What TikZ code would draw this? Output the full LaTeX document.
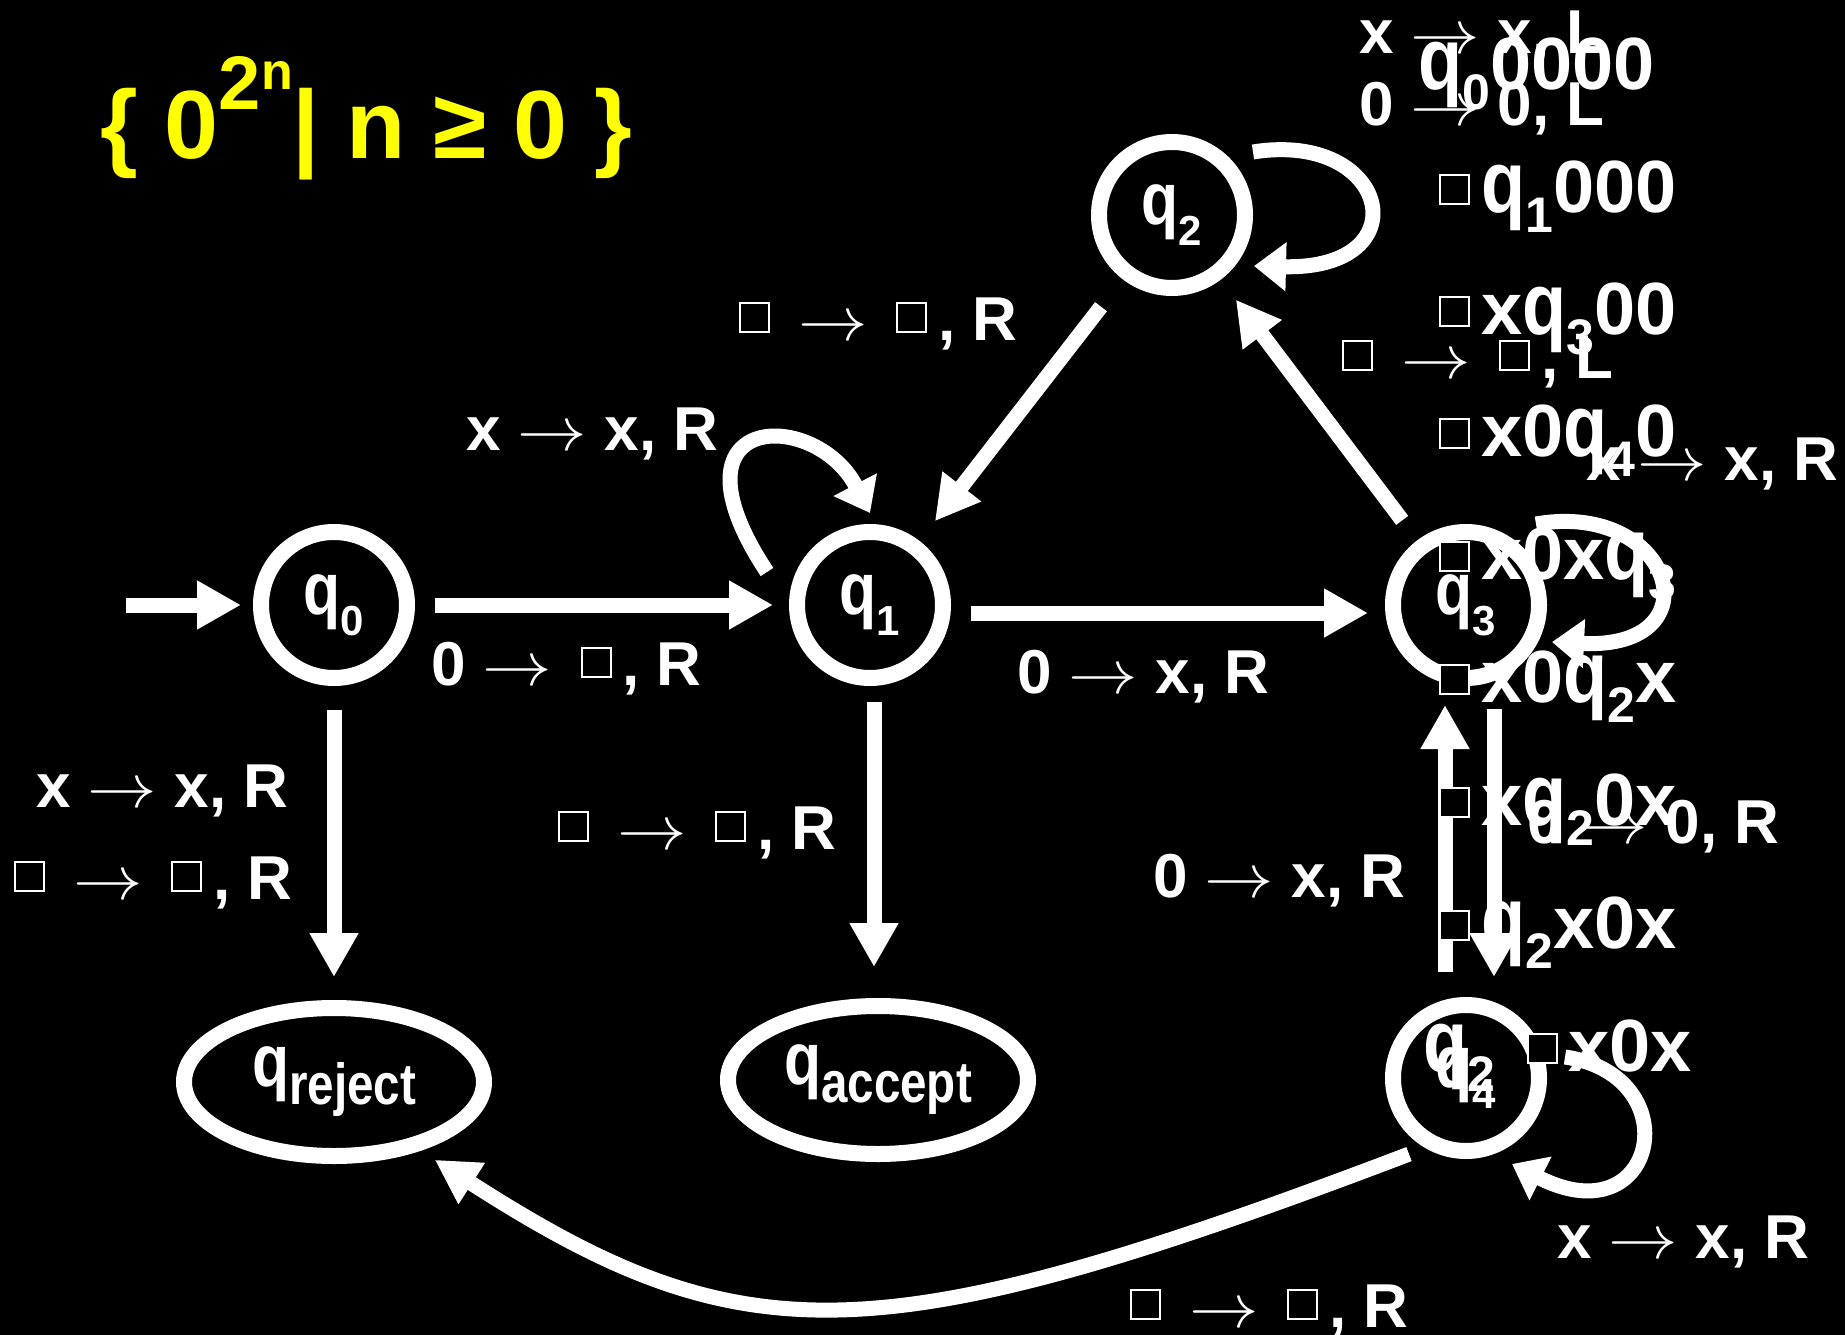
\RequirePackage{fix-cm}
\documentclass[tikz,border=0pt]{standalone}
\usepackage{fontspec}
\setmainfont{Liberation Sans}
\newfontfamily\narrowfont[FakeStretch=0.82]{Liberation Sans}
\usepackage{xcolor}
\usepackage{graphicx}
\usetikzlibrary{arrows.meta,shapes.geometric}
\definecolor{slideyellow}{RGB}{255,255,0}
\newcommand{\labfont}{\fontsize{62}{72}\selectfont\bfseries}
\newcommand{\cfgfont}{\fontsize{74}{84}\selectfont\bfseries}
\newcommand{\tmto}{\scalebox{1.12}[1]{$\rightarrow$}}
\newcommand{\blank}{\hspace{11pt}\raisebox{9pt}{\setlength{\fboxsep}{0pt}\setlength{\fboxrule}{2pt}\fcolorbox{white}{black}{\rule{0pt}{27pt}\rule{27pt}{0pt}}}\hspace{11pt}}
\newcommand{\qs}[1]{{\bfseries{\narrowfont\fontsize{74}{80}\selectfont q}\raisebox{-21pt}{\fontsize{42}{46}\selectfont #1}}}
\newcommand{\qh}[1]{{\narrowfont\bfseries\fontsize{74}{80}\selectfont q\raisebox{-18pt}{\fontsize{58}{64}\selectfont #1}}}
\newcommand{\cq}[1]{{\narrowfont\bfseries\fontsize{88}{96}\selectfont q}\raisebox{-20pt}{\fontsize{50}{56}\selectfont #1}}
\tikzset{
  tmstate/.style={draw=white,circle,line width=16pt,minimum size=146pt,inner sep=0pt,outer sep=0pt,text=white},
  haltstate/.style={draw=white,ellipse,line width=16pt,minimum width=300pt,minimum height=148pt,inner sep=0pt,outer sep=0pt,text=white},
  trans/.style={draw=white,line width=15pt,-{Triangle[length=44pt,width=46pt]}},
  selfloop/.style={draw=white,line width=15pt,-{Triangle[length=32pt,width=47pt]}},
  tlabel/.style={anchor=base west,inner sep=0pt,text=white,font=\labfont},
  cfgline/.style={anchor=base west,inner sep=0pt,text=white,font=\cfgfont}
}

\begin{document}
\begin{tikzpicture}[x=1pt,y=-1pt]
\fill[black] (0,0) rectangle (1845,1335);
\useasboundingbox (0,0) rectangle (1845,1335);
\node[anchor=base west,inner sep=0pt,text=slideyellow,font=\fontsize{97}{110}\selectfont\bfseries] (lang) at (100,158)
  {\{ 0\raisebox{48pt}{\fontsize{76}{80}\selectfont 2\raisebox{21pt}{\fontsize{52}{60}\selectfont n}}| n ≥ 0 \}};

\node[tmstate] (q0) at (334,605) {\qs{0}};
\node[tmstate] (q1) at (870,605) {\qs{1}};
\node[tmstate] (q2) at (1172,215) {\qs{2}};
\node[tmstate] (q3) at (1466,605) {\qs{3}};
\node[tmstate] (q4) at (1466,1078) {\qs{4}};
\node[haltstate] (qrej) at (334,1082) {\qh{reject}};
\node[haltstate] (qacc) at (878,1080) {\qh{accept}};
\coordinate (init) at (126,605);

\draw[trans,shorten >=20pt] (init) -- (q0);
\draw[trans,shorten <=28pt,shorten >=24pt] (q0) -- (q1);
\draw[trans,shorten <=28pt,shorten >=25pt] ([yshift=-8pt]q1.east) -- ([yshift=-8pt]q3.west);
\draw[trans,shorten <=43pt,shorten >=33pt] (q2) -- (q1);
\draw[trans,shorten <=33pt,shorten >=33pt] (q3) -- (q2);
\draw[trans,shorten <=32pt,shorten >=31pt] (q0) -- (qrej);
\draw[trans,shorten <=24pt,shorten >=39pt] ([xshift=4pt]q1.south) -- ([xshift=-4pt]qacc.north);
\draw[trans,shorten <=31pt,shorten >=28pt] ([xshift=28pt]q3.south) -- ([xshift=28pt]q4.north);
\draw[trans,shorten <=33pt,shorten >=27pt] ([xshift=-21pt]q4.north) -- ([xshift=-21pt]q3.south);
\draw[trans,shorten <=28pt,shorten >=27pt] (q4.245) .. controls +(-560,213) and +(330,212) .. (qrej.321);

\draw[selfloop] ([shift={(-103,-33)}]q1.center) .. controls +(-107,-162) and +(-55,-105) .. ([shift={(0,-92)}]q1.center);
\draw[selfloop] ([shift={(81,-63)}]q2.center) .. controls +(137,-22) and +(168,4) .. ([shift={(82,51)}]q2.center);
\draw[selfloop] ([shift={(70,-81)}]q3.center) .. controls +(138,-24) and +(165,8) .. ([shift={(86,37)}]q3.center);
\draw[selfloop] ([shift={(99,-21)}]q4.center) .. controls +(125,18) and +(146,74) .. ([shift={(46,86)}]q4.center);

\node[tlabel] (lblq1) at (466,450) {x \tmto{} x, R};
\node[tlabel] (lbl01) at (431,685) {0 \tmto{} \blank, R};
\node[tlabel] (lbl21) at (728,340) {\blank{} \tmto{} \blank, R};
\node[tlabel] (lbl13) at (1017,693) {0 \tmto{} x, R};
\node[tlabel] (lbl0ra) at (36,807) {x \tmto{} x, R};
\node[tlabel] (lbl0rb) at (3,899) {\blank{} \tmto{} \blank, R};
\node[tlabel] (lbl1a) at (547,849) {\blank{} \tmto{} \blank, R};
\node[tlabel] (lblq2a) at (1359,54) {x \tmto{} x, L};
\node[tlabel] (lblq2b) at (1359,126) {0 \tmto{} 0, L};
\node[tlabel] (lbl32) at (1331,378) {\blank{} \tmto{} \blank, L};
\node[tlabel] (lblq3) at (1586,480) {x \tmto{} x, R};
\node[tlabel] (lbl34) at (1527,843) {0 \tmto{} 0, R};
\node[tlabel] (lbl43) at (1153,897) {0 \tmto{} x, R};
\node[tlabel] (lblq4) at (1557,1258) {x \tmto{} x, R};
\node[tlabel] (lbl4r) at (1119,1327) {\blank{} \tmto{} \blank, R};

\node[cfgline] (cfg1) at (1418,90) {\cq{0}0000};
\node[cfgline] (cfg2) at (1428,212) {\blank\cq{1}000};
\node[cfgline] (cfg3) at (1428,334) {\blank x\cq{3}00};
\node[cfgline] (cfg4) at (1428,456) {\blank x0\cq{4}0};
\node[cfgline] (cfg5) at (1428,579) {\blank x0x\cq{3}};
\node[cfgline] (cfg6) at (1428,702) {\blank x0\cq{2}x};
\node[cfgline] (cfg7) at (1428,825) {\blank x\cq{2}0x};
\node[cfgline] (cfg8) at (1428,948) {\blank\cq{2}x0x};
\node[cfgline] (cfg9) at (1423,1071) {\cq{2} \blank x0x};
\end{tikzpicture}
\end{document}
